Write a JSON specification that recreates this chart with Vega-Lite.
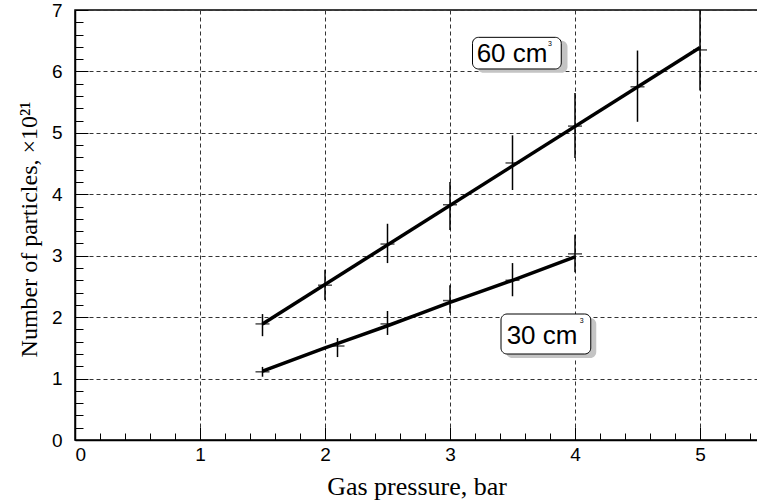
{
  "$schema": "https://vega.github.io/schema/vega-lite/v6.json",
  "width": 683,
  "height": 430,
  "autosize": "none",
  "padding": {"left": 75, "top": 10, "right": 0, "bottom": 62},
  "background": "white",
  "config": {
    "view": {"stroke": "black", "strokeWidth": 1.5},
    "axis": {"domainColor": "black", "tickColor": "black", "labelColor": "black", "titleColor": "black"}
  },
  "datasets": {
    "points": [
      {"series": "60", "x": 1.5, "y": 1.89, "lo": 1.69, "hi": 2.05},
      {"series": "60", "x": 2.0, "y": 2.52, "lo": 2.28, "hi": 2.77},
      {"series": "60", "x": 2.5, "y": 3.19, "lo": 2.88, "hi": 3.52},
      {"series": "60", "x": 3.0, "y": 3.83, "lo": 3.42, "hi": 4.20},
      {"series": "60", "x": 3.5, "y": 4.51, "lo": 4.07, "hi": 4.96},
      {"series": "60", "x": 4.0, "y": 5.11, "lo": 4.59, "hi": 5.65},
      {"series": "60", "x": 4.5, "y": 5.75, "lo": 5.18, "hi": 6.34},
      {"series": "60", "x": 5.0, "y": 6.35, "lo": 5.69, "hi": 7.0},
      {"series": "30", "x": 1.5, "y": 1.11, "lo": 1.03, "hi": 1.19},
      {"series": "30", "x": 2.1, "y": 1.53, "lo": 1.35, "hi": 1.66},
      {"series": "30", "x": 2.5, "y": 1.89, "lo": 1.71, "hi": 2.10},
      {"series": "30", "x": 3.0, "y": 2.27, "lo": 2.07, "hi": 2.52},
      {"series": "30", "x": 3.5, "y": 2.60, "lo": 2.34, "hi": 2.88},
      {"series": "30", "x": 4.0, "y": 3.03, "lo": 2.73, "hi": 3.34}
    ],
    "fit": [
      {"series": "60", "x": 1.5, "y": 1.89},
      {"series": "60", "x": 5.0, "y": 6.39},
      {"series": "30", "x": 1.5, "y": 1.12},
      {"series": "30", "x": 2.0, "y": 1.50},
      {"series": "30", "x": 2.5, "y": 1.86},
      {"series": "30", "x": 3.0, "y": 2.24},
      {"series": "30", "x": 3.5, "y": 2.60},
      {"series": "30", "x": 4.0, "y": 2.98}
    ],
    "labels": [
      {"label": "60 cm", "sup": "3", "x1": 3.18, "x2": 3.89, "y1": 6.04, "y2": 6.555, "sx1": 3.22, "sx2": 3.94, "sy1": 5.98, "sy2": 6.50, "tx": 3.213, "ty": 6.15, "supx": 3.80, "supy": 6.45},
      {"label": "30 cm", "sup": "3", "x1": 3.408, "x2": 4.126, "y1": 1.40, "y2": 2.051, "sx1": 3.45, "sx2": 4.17, "sy1": 1.335, "sy2": 1.986, "tx": 3.453, "ty": 1.565, "supx": 4.053, "supy": 1.93}
    ]
  },
  "resolve": {"axis": {"x": "independent", "y": "independent"}},
  "layer": [
    {
      "data": {"name": "points"},
      "mark": {"type": "rule", "color": "black", "strokeWidth": 1.5},
      "encoding": {
        "x": {"field": "x", "type": "quantitative", "scale": {"domain": [0, 5.464], "nice": false, "zero": false},
          "axis": {"orient": "bottom", "values": [0.2,0.4,0.6,0.8,1.2,1.4,1.6,1.8,2.2,2.4,2.6,2.8,3.2,3.4,3.6,3.8,4.2,4.4,4.6,4.8,5.2,5.4], "tickSize": -7, "tickWidth": 1, "labels": false, "grid": false, "domain": false, "title": null}},
        "y": {"field": "lo", "type": "quantitative", "scale": {"domain": [0, 7], "nice": false, "zero": false},
          "axis": {"orient": "left", "values": [0.2,0.4,0.6,0.8,1.2,1.4,1.6,1.8,2.2,2.4,2.6,2.8,3.2,3.4,3.6,3.8,4.2,4.4,4.6,4.8,5.2,5.4,5.6,5.8,6.2,6.4,6.6,6.8], "tickSize": -8, "tickWidth": 1, "labels": false, "grid": false, "domain": false, "title": null}},
        "y2": {"field": "hi"}
      }
    },
    {
      "data": {"name": "points"},
      "mark": {"type": "tick", "orient": "horizontal", "color": "black", "size": 14, "thickness": 1.5},
      "encoding": {
        "x": {"field": "x", "type": "quantitative", "scale": {"domain": [0, 5.464], "nice": false, "zero": false},
          "axis": {"orient": "bottom", "values": [0,1,2,3,4,5], "tickSize": -13, "tickWidth": 1, "labelFont": "Liberation Sans", "labelFontSize": 19, "labelPadding": 18,
            "grid": true, "gridColor": "#333", "gridDash": [4, 3], "gridWidth": 1, "domainWidth": 1.5,
            "title": "Gas pressure, bar", "titleFont": "Liberation Serif", "titleFontSize": 26, "titleFontWeight": "normal", "titlePadding": 9}},
        "y": {"field": "y", "type": "quantitative", "scale": {"domain": [0, 7], "nice": false, "zero": false},
          "axis": {"orient": "left", "values": [0,1,2,3,4,5,6,7], "tickSize": -13, "tickWidth": 1, "labelFont": "Liberation Sans", "labelFontSize": 19, "labelPadding": 26,
            "grid": true, "gridColor": "#333", "gridDash": [4, 3], "gridWidth": 1, "domainWidth": 1.5,
            "title": "Number of particles, ×10²¹", "titleFont": "Liberation Serif", "titleFontSize": 24, "titleFontWeight": "normal", "titlePadding": 10, "titleY": 219}}
      }
    },
    {
      "data": {"name": "fit"},
      "mark": {"type": "line", "color": "black", "strokeWidth": 3.5, "interpolate": "monotone"},
      "encoding": {
        "x": {"field": "x", "type": "quantitative", "axis": null},
        "y": {"field": "y", "type": "quantitative", "axis": null},
        "detail": {"field": "series"}
      }
    },
    {
      "data": {"name": "labels"},
      "mark": {"type": "rect", "color": "#c4c4c4", "cornerRadius": 6},
      "encoding": {
        "x": {"field": "sx1", "type": "quantitative", "axis": null},
        "x2": {"field": "sx2"},
        "y": {"field": "sy1", "type": "quantitative", "axis": null},
        "y2": {"field": "sy2"}
      }
    },
    {
      "data": {"name": "labels"},
      "mark": {"type": "rect", "fill": "white", "stroke": "black", "strokeWidth": 1, "cornerRadius": 6},
      "encoding": {
        "x": {"field": "x1", "type": "quantitative", "axis": null},
        "x2": {"field": "x2"},
        "y": {"field": "y1", "type": "quantitative", "axis": null},
        "y2": {"field": "y2"}
      }
    },
    {
      "data": {"name": "labels"},
      "mark": {"type": "text", "font": "Liberation Sans", "fontSize": 26, "align": "left", "baseline": "alphabetic", "color": "black"},
      "encoding": {
        "x": {"field": "tx", "type": "quantitative", "axis": null},
        "y": {"field": "ty", "type": "quantitative", "axis": null},
        "text": {"field": "label"}
      }
    },
    {
      "data": {"name": "labels"},
      "mark": {"type": "text", "font": "Liberation Sans", "fontSize": 7, "align": "center", "baseline": "middle", "color": "black"},
      "encoding": {
        "x": {"field": "supx", "type": "quantitative", "axis": null},
        "y": {"field": "supy", "type": "quantitative", "axis": null},
        "text": {"field": "sup"}
      }
    }
  ]
}
